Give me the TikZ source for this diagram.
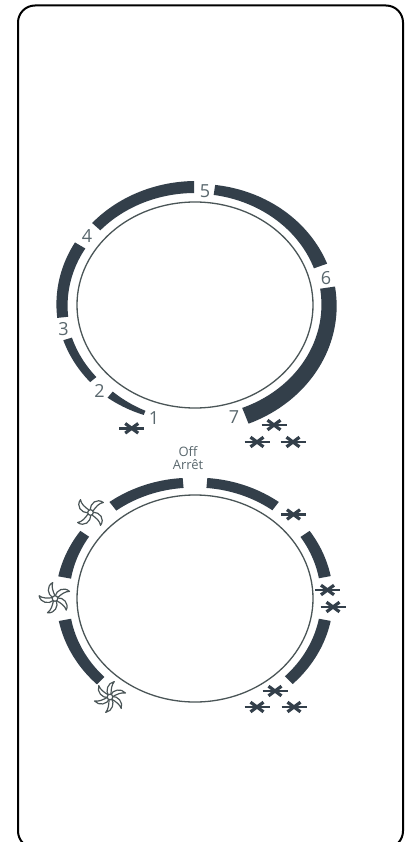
\documentclass[tikz,border=0pt]{standalone}
\usepackage{fontspec}
\setmainfont{Open Sans}
\definecolor{barcol}{HTML}{333F4A}
\definecolor{ringcol}{HTML}{4A5557}
\definecolor{labcol}{HTML}{5A686E}
\newcommand{\dialband}[8]{%
  \fill[barcol] plot[domain=#3:#4,samples=40,smooth]
    ({#1+(118+#6+(#8-#6)*(\x-#3)/(#4-#3))*cos(\x)},{#2-(103+#6+(#8-#6)*(\x-#3)/(#4-#3))*sin(\x)})
    -- plot[domain=#4:#3,samples=40,smooth]
    ({#1+(118+#5+(#7-#5)*(\x-#3)/(#4-#3))*cos(\x)},{#2-(103+#5+(#7-#5)*(\x-#3)/(#4-#3))*sin(\x)})
    -- cycle;}
\newcommand{\snowmark}[2]{%
  \begin{scope}[shift={(#1,#2)}]
    \draw[barcol,line width=2.4pt] (-12.5,0) -- (12.5,0);
    \draw[barcol,line width=3.2pt] (-6.5,-4.8) -- (6.5,4.8) (-6.5,4.8) -- (6.5,-4.8);
  \end{scope}}
\newcommand{\fanmark}[5]{%
  \begin{scope}[shift={(#1,#2)}]
    \foreach \k in {1,...,#3} {
      \begin{scope}[rotate={#4+\k*360/#3},yscale=#5]
      \draw[ringcol,line width=1.2pt,fill=white,line join=round]
        (0.5,-2.6) .. controls (3,-9) and (11,-11.5) .. (15.5,-5)
        .. controls (11.5,-6) and (7,-3.5) .. (2.7,-0.5) -- cycle;
      \end{scope}
    }
    \draw[ringcol,line width=1.2pt,fill=white] (0,0) circle (2.8);
  \end{scope}}
\tikzset{numlab/.style={text=labcol,font=\fontsize{18}{18}\selectfont,inner sep=0pt},
  smalllab/.style={text=labcol,font=\fontsize{13}{13}\selectfont,inner sep=0pt},
  ringline/.style={draw=ringcol,line width=1.3pt}}
\begin{document}
\begin{tikzpicture}[x=1pt,y=-1pt]
\useasboundingbox (0,0) rectangle (412,842);
\clip (0,0) rectangle (412,842);
\fill[white] (0,0) rectangle (412,842);
\draw[black,line width=2pt,rounded corners=17pt] (18,5.5) rectangle (403,848);
% top dial
\draw[ringline] (195,305) ellipse [x radius=118, y radius=103];
\dialband{195}{305}{230}{247.5}{10}{18}{11.5}{16}
\dialband{195}{305}{219.6}{196.7}{10}{18}{10.5}{19.5}
\dialband{195}{305}{186}{149.7}{9.5}{20.5}{9}{21}
\dialband{195}{305}{138.2}{90.4}{9}{20}{9}{21}
\dialband{195}{305}{81.5}{19.3}{8.3}{18.4}{8}{22}
\dialband{195}{305}{8.4}{-68}{8.5}{23.5}{8}{25}
\node[numlab] (n1) at (154,418) {1};
\node[numlab] (n2) at (99.5,391) {2};
\node[numlab] (n3) at (63.5,329) {3};
\node[numlab] (n4) at (87,236) {4};
\node[numlab] (n5) at (205,191) {5};
\node[numlab] (n6) at (326,278) {6};
\node[numlab] (n7) at (234,417) {7};
\snowmark{131.7}{428.3}
\snowmark{274}{425}
\snowmark{257}{442}
\snowmark{293}{442}
% bottom dial
\draw[ringline] (195,598.5) ellipse [x radius=118, y radius=103.5];
\dialband{195}{598.5}{95.2}{128.3}{8}{18}{9}{20}
\dialband{195}{598.5}{146.5}{169.7}{9}{19.5}{8}{21}
\dialband{195}{598.5}{190.5}{224.5}{8}{20.5}{9}{19.5}
\dialband{195}{598.5}{84.8}{52.3}{8}{18}{8.5}{19}
\dialband{195}{598.5}{33.5}{10.5}{8.5}{19.5}{8}{20}
\dialband{195}{598.5}{-10.5}{-44.5}{8}{20}{8}{19}
\node[smalllab] (off) at (188,451.5) {Off};
\node[smalllab] (arret) at (188,465) {Arrêt};
\snowmark{293.5}{514.5}
\snowmark{327.5}{590}
\snowmark{333}{607}
\snowmark{275}{691}
\snowmark{257}{707}
\snowmark{294}{707}
\fanmark{90.5}{512.5}{4}{20}{1}
\fanmark{55}{598.5}{5}{10}{.9}
\fanmark{110}{697}{6}{0}{.8}
\end{tikzpicture}
\end{document}
